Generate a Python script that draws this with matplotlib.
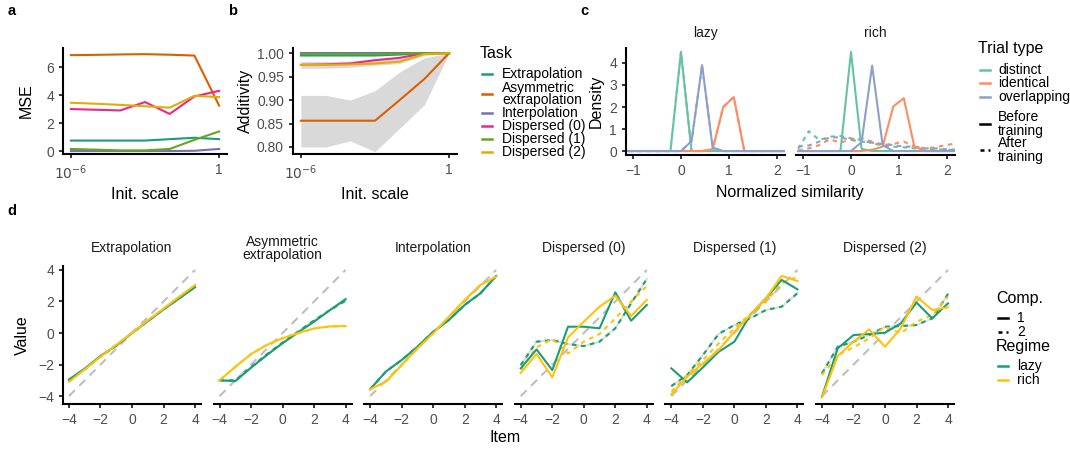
import matplotlib
matplotlib.use("Agg")
import matplotlib.pyplot as plt
from matplotlib.lines import Line2D

plt.rcParams['font.family'] = ['Liberation Sans', 'DejaVu Sans']

# ---- data -------------------------------------------------------------
tasks = ["Extrapolation", "Asymmetric\nextrapolation", "Interpolation",
         "Dispersed (0)", "Dispersed (1)", "Dispersed (2)"]
task_colors = ["#1B9E77", "#D95F02", "#7570B3", "#E7298A", "#66A61E", "#E6AB02"]

init_scale = [1e-6, 1e-5, 1e-4, 1e-3, 1e-2, 1e-1, 1.0]

mse_extrap = [0.75, 0.75, 0.75, 0.75, 0.85, 0.95, 0.85]
mse_asym = [6.85, 6.87, 6.9, 6.92, 6.88, 6.82, 3.25]
mse_interp = [0.0, 0.0, 0.0, 0.0, 0.0, 0.02, 0.15]
mse_disp0 = [3.0, 2.95, 2.9, 3.5, 2.65, 3.9, 4.3]
mse_disp1 = [0.15, 0.1, 0.05, 0.05, 0.15, 0.8, 1.4]
mse_disp2 = [3.45, 3.38, 3.3, 3.2, 3.1, 3.95, 3.85]

add_extrap = [0.995, 0.995, 0.995, 0.995, 0.997, 1.0, 1.0]
add_asym = [0.856, 0.856, 0.856, 0.856, 0.90, 0.945, 1.0]
add_interp = [1.0, 1.0, 1.0, 1.0, 1.0, 1.0, 1.0]
add_disp0 = [0.975, 0.976, 0.978, 0.985, 0.99, 1.0, 1.0]
add_disp1 = [0.998, 0.998, 0.998, 0.998, 0.999, 1.0, 1.0]
add_disp2 = [0.975, 0.975, 0.976, 0.978, 0.982, 0.998, 1.0]
asym_lo = [0.80, 0.80, 0.813, 0.79, 0.84, 0.89, 1.0]
asym_hi = [0.91, 0.91, 0.90, 0.92, 0.96, 0.99, 1.0]
disp_lo = [0.968, 0.968, 0.97, 0.974, 0.978, 0.995, 1.0]
disp_hi = [0.982, 0.982, 0.983, 0.988, 0.993, 1.0, 1.0]

trial_types = ["distinct", "identical", "overlapping"]
trial_colors = ["#66C2A5", "#FC8D62", "#8DA0CB"]
sim_bins = [-1.10, -0.88, -0.66, -0.44, -0.22, 0.00, 0.22, 0.44,
            0.66, 0.88, 1.10, 1.32, 1.54, 1.76, 1.98, 2.20]
lazy_distinct = [0, 0, 0, 0, 0, 4.5, 0, 0, 0, 0, 0, 0, 0, 0, 0, 0]
lazy_identical = [0, 0, 0, 0, 0, 0, 0, 0, 0.08, 2.0, 2.45, 0, 0, 0, 0, 0]
lazy_overlap = [0, 0, 0, 0, 0, 0, 0.45, 3.9, 0.15, 0, 0, 0, 0, 0, 0, 0]
rich_distinct = [0, 0, 0, 0, 0, 4.5, 0.1, 0, 0, 0, 0, 0, 0, 0, 0, 0]
rich_identical = [0, 0, 0, 0, 0, 0, 0, 0.05, 0.2, 2.02, 2.4, 0.2, 0, 0, 0, 0]
rich_overlap = [0, 0, 0, 0, 0, 0, 0.4, 3.88, 0.27, 0, 0, 0, 0, 0, 0, 0]
rich_distinct_after = [0.1, 0.9, 0.5, 0.65, 0.68, 0.58, 0.5, 0.35,
                       0.25, 0.2, 0.17, 0.12, 0.1, 0.08, 0.06, 0.05]
rich_identical_after = [0.02, 0.12, 0.27, 0.53, 0.38, 0.53, 0.58, 0.43,
                        0.27, 0.32, 0.43, 0.2, 0.12, 0.17, 0.27, 0.35]
rich_overlap_after = [0.2, 0.25, 0.43, 0.62, 0.62, 0.5, 0.43, 0.38,
                      0.32, 0.27, 0.2, 0.2, 0.12, 0.12, 0.08, 0.06]

items = [-4, -3, -2, -1, 0, 1, 2, 3, 4]
lazy_color, rich_color = "#1B9E77", "#FFC20A"
# rows follow `tasks`
lazy_comp1 = [
    [-2.95, -2.25, -1.45, -0.8, 0.0, 0.75, 1.5, 2.2, 2.9],
    [-3.0, -3.05, -2.2, -1.4, -0.65, 0.05, 0.72, 1.45, 2.15],
    [-3.56, -2.44, -1.71, -0.87, 0.08, 0.83, 1.78, 2.52, 3.62],
    [-2.24, -1.04, -2.35, 0.4, 0.4, 0.3, 2.58, 0.78, 1.78],
    [-2.24, -3.13, -2.18, -1.19, -0.55, 1.14, 2.2, 3.37, 2.77],
    [-4.04, -0.97, -0.13, -0.06, 0.02, 0.61, 1.93, 0.93, 1.88],
]
lazy_comp2 = [
    [-3.0, -2.3, -1.5, -0.8, 0.0, 0.75, 1.5, 2.2, 2.95],
    [-3.0, -3.0, -2.15, -1.35, -0.6, 0.1, 0.8, 1.45, 2.05],
    [-3.56, -2.44, -1.71, -0.87, 0.08, 0.83, 1.78, 2.52, 3.62],
    [-2.03, -0.55, -0.44, -0.7, -0.83, -0.55, 0.3, 1.88, 3.43],
    [-3.36, -2.67, -1.4, -0.06, 0.51, 0.93, 1.46, 1.67, 2.52],
    [-2.56, -0.87, -0.55, -0.13, 0.4, 0.44, 0.51, 0.93, 2.48],
]
rich_comp1 = [
    [-3.1, -2.3, -1.5, -0.75, 0.0, 0.8, 1.55, 2.3, 3.05],
    [-3.0, -2.14, -1.33, -0.75, -0.33, 0.0, 0.29, 0.42, 0.44],
    [-3.56, -3.09, -2.03, -0.97, -0.02, 1.04, 2.09, 3.05, 3.58],
    [-2.52, -1.33, -2.81, -0.28, 0.72, 1.67, 2.37, 1.08, 2.1],
    [-3.89, -2.77, -1.93, -1.08, 0.08, 1.14, 2.2, 3.62, 3.3],
    [-4.08, -1.46, -0.55, 0.23, -0.87, 0.3, 2.31, 1.46, 1.63],
]
rich_comp2 = [
    [-3.05, -2.3, -1.5, -0.75, 0.0, 0.8, 1.55, 2.3, 3.0],
    [-3.0, -2.14, -1.33, -0.75, -0.33, 0.0, 0.29, 0.42, 0.44],
    [-3.56, -3.09, -2.03, -0.97, -0.02, 1.04, 2.09, 3.05, 3.58],
    [-2.3, -0.9, -0.38, -1.29, -0.55, -0.06, 0.93, 2.0, 2.98],
    [-3.72, -2.67, -1.71, -0.66, 0.3, 1.2, 1.99, 3.15, 3.58],
    [-2.67, -1.4, -0.91, -0.34, 0.4, -0.02, 0.72, 1.14, 2.31],
]

# ---- helpers ----------------------------------------------------------
W, H = 1070, 450
fig = plt.figure(figsize=(W / 100, H / 100), dpi=100)
LW = 1.5
TICK_GRAY = "#4D4D4D"
DASH = (2.2, 2.2)
LEG = 10


def box(x0, y0, x1, y1):
    return [x0 / W, 1 - y1 / H, (x1 - x0) / W, (y1 - y0) / H]


def style(ax, left=True):
    ax.spines['top'].set_visible(False)
    ax.spines['right'].set_visible(False)
    ax.spines['bottom'].set_linewidth(1.5)
    ax.spines['left'].set_linewidth(1.5)
    ax.tick_params(length=3, width=1.1, labelcolor=TICK_GRAY, labelsize=10, pad=3.5)
    if not left:
        ax.spines['left'].set_visible(False)
        ax.tick_params(axis='y', left=False, labelleft=False)


def ftext(x, y, s, **kw):
    kw.setdefault('va', 'center')
    kw.setdefault('ha', 'left')
    fig.text(x / W, 1 - y / H, s, **kw)


def key(x, y, color, dashes=None):
    ln = Line2D([x / W, (x + 10) / W], [1 - y / H] * 2, color=color, lw=1.8,
                transform=fig.transFigure)
    if dashes:
        ln.set_dashes(dashes)
    fig.add_artist(ln)


# ---- panel a ----------------------------------------------------------
ax_a = fig.add_axes(box(63, 48, 227, 154))
for vals, c in zip([mse_extrap, mse_asym, mse_interp, mse_disp0, mse_disp1, mse_disp2],
                   task_colors):
    ax_a.plot(init_scale, vals, color=c, lw=LW)
ax_a.set_xscale('log')
ax_a.set_xlim(10 ** -6.32, 10 ** 0.32)
ax_a.set_ylim(-0.21, 7.36)
ax_a.set_xticks([1e-6, 1])
ax_a.set_xticklabels(['$10^{-6}$', '1'])
ax_a.minorticks_off()
ax_a.set_yticks([0, 2, 4, 6])
style(ax_a)
ax_a.set_xlabel("Init. scale", fontsize=11.5, labelpad=4)
ax_a.set_ylabel("MSE", fontsize=11.5, labelpad=9)

# ---- panel b ----------------------------------------------------------
ax_b = fig.add_axes(box(293, 48, 457, 154))
ax_b.fill_between(init_scale, asym_lo, asym_hi, color="#D9D9D9", lw=0)
ax_b.fill_between(init_scale, disp_lo, disp_hi, color="#D9D9D9", lw=0)
for vals, c in zip([add_extrap, add_asym, add_interp, add_disp0, add_disp1, add_disp2],
                   task_colors):
    ax_b.plot(init_scale, vals, color=c, lw=LW)
ax_b.set_xscale('log')
ax_b.set_xlim(10 ** -6.32, 10 ** 0.32)
ax_b.set_ylim(0.785, 1.011)
ax_b.set_xticks([1e-6, 1])
ax_b.set_xticklabels(['$10^{-6}$', '1'])
ax_b.minorticks_off()
ax_b.set_yticks([0.80, 0.85, 0.90, 0.95, 1.00])
ax_b.set_yticklabels(["0.80", "0.85", "0.90", "0.95", "1.00"])
style(ax_b)
ax_b.set_xlabel("Init. scale", fontsize=11.5, labelpad=4)
ax_b.set_ylabel("Additivity", fontsize=11.5, labelpad=3)

# Task legend
ftext(480, 53, "Task", fontsize=11.5)
task_rows = [74, 94, 113, 126, 139, 152]
for name, c, y in zip(tasks, task_colors, task_rows):
    key(482, y, c)
    ftext(502, y, name, fontsize=LEG, linespacing=0.9)

# ---- panel c ----------------------------------------------------------
before = [[lazy_distinct, lazy_identical, lazy_overlap],
          [rich_distinct, rich_identical, rich_overlap]]
after = [[lazy_distinct, lazy_identical, lazy_overlap],
         [rich_distinct_after, rich_identical_after, rich_overlap_after]]
for i, (regime, x0, x1) in enumerate([("lazy", 626, 785), ("rich", 796, 955)]):
    ax = fig.add_axes(box(x0, 48, x1, 155))
    for j in range(3):
        ln, = ax.plot(sim_bins, after[i][j], color=trial_colors[j], lw=LW)
        ln.set_dashes(DASH)
    for j in range(3):
        ax.plot(sim_bins, before[i][j], color=trial_colors[j], lw=LW)
    ax.set_xlim(-1.146, 2.167)
    ax.set_ylim(-0.18, 4.68)
    ax.set_xticks([-1, 0, 1, 2])
    ax.set_xticklabels(["\u22121", "0", "1", "2"])
    ax.set_yticks([0, 1, 2, 3, 4])
    style(ax, left=(i == 0))
    ax.text(0.5, 1.14, regime, transform=ax.transAxes, ha='center', va='center',
            fontsize=10, color="#1A1A1A")
    if i == 0:
        ax.set_ylabel("Density", fontsize=11.5, labelpad=4)
ftext(790, 193, "Normalized similarity", fontsize=11.5, ha='center')

# Trial type legend
ftext(978, 49, "Trial type", fontsize=11.5)
for name, c, y in zip(trial_types, trial_colors, [70, 83, 97]):
    key(980, y, c)
    ftext(998, y, name, fontsize=LEG)
key(980, 124, "black")
ftext(998, 124, "Before\ntraining", fontsize=LEG, linespacing=0.95)
key(980, 150, "black", dashes=(1.6, 1.6))
ftext(998, 150, "After\ntraining", fontsize=LEG, linespacing=0.95)

# ---- panel d ----------------------------------------------------------
for k, name in enumerate(tasks):
    left = 63 + 150.6 * k
    ax = fig.add_axes(box(left, 266, left + 138, 404))
    ident, = ax.plot([-4, 4], [-4, 4], color="#BEBEBE", lw=LW)
    ident.set_dashes((4, 3))
    ax.plot(items, lazy_comp2[k], color="#DDDDDD", lw=LW)
    d1, = ax.plot(items, lazy_comp2[k], color=lazy_color, lw=LW)
    d1.set_dashes(DASH)
    d2, = ax.plot(items, rich_comp2[k], color=rich_color, lw=LW)
    d2.set_dashes(DASH)
    ax.plot(items, lazy_comp1[k], color=lazy_color, lw=LW)
    ax.plot(items, rich_comp1[k], color=rich_color, lw=LW)
    ax.set_xlim(-4.38, 4.38)
    ax.set_ylim(-4.5, 4.25)
    ax.set_xticks([-4, -2, 0, 2, 4])
    ax.set_xticklabels(["\u22124", "\u22122", "0", "2", "4"])
    ax.set_yticks([-4, -2, 0, 2, 4])
    ax.set_yticklabels(["\u22124", "\u22122", "0", "2", "4"])
    style(ax, left=(k == 0))
    ax.text(0.5, 1.13, name, transform=ax.transAxes, ha='center', va='center',
            fontsize=10, color="#1A1A1A", linespacing=0.9)
    if k == 0:
        ax.set_ylabel("Value", fontsize=11.5, labelpad=6)
ftext(505, 438, "Item", fontsize=11.5, ha='center')

# Comp. / Regime legend
ftext(996, 298, "Comp.", fontsize=11.5)
key(998, 318, "black")
ftext(1017, 318, "1", fontsize=LEG)
key(998, 332, "black", dashes=(1.6, 1.6))
ftext(1017, 332, "2", fontsize=LEG)
ftext(996, 346, "Regime", fontsize=11.5)
key(998, 366, lazy_color)
ftext(1017, 366, "lazy", fontsize=LEG)
key(998, 380, rich_color)
ftext(1017, 380, "rich", fontsize=LEG)

# panel letters
for s, x, y in [("a", 12, 11), ("b", 233, 11), ("c", 584, 11), ("d", 12, 211)]:
    ftext(x, y, s, fontsize=10.5, fontweight='bold', ha='center')

fig.savefig("out.png", dpi=100)
